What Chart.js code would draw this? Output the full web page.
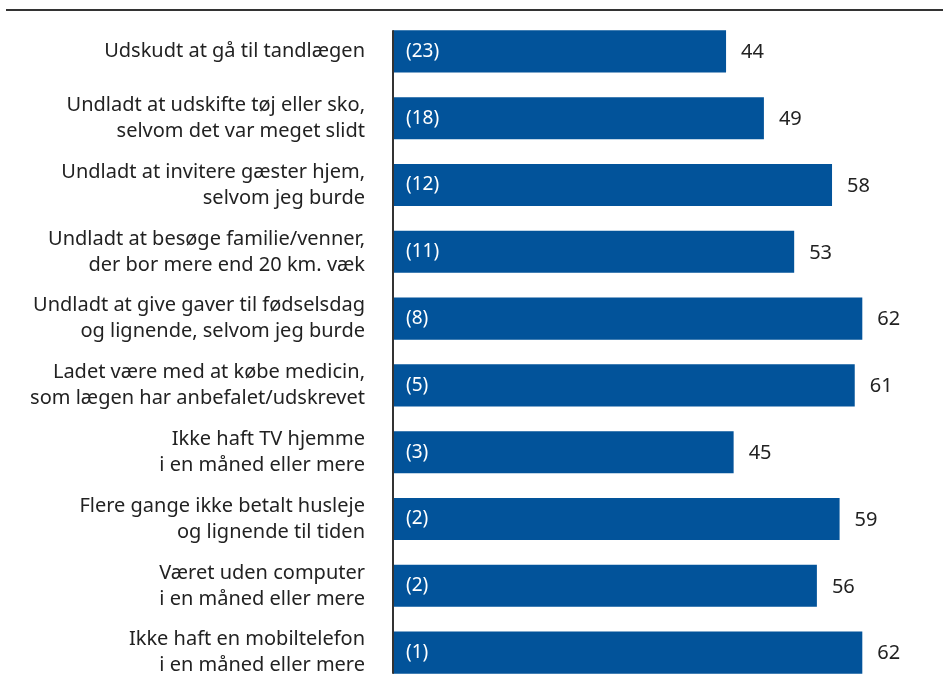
<!DOCTYPE html>
<html>
<head>
<meta charset="utf-8">
<script src="https://cdn.jsdelivr.net/npm/chart.js@4"></script>
<style>
  html, body { margin: 0; padding: 0; background: #fff; }
  #wrap { width: 943px; height: 688px; position: relative; }
</style>
</head>
<body>
<div id="wrap"><canvas id="chart"></canvas></div>
<script>
const categories = [
    ['Udskudt at gå til tandlægen'],
    ['Undladt at udskifte tøj eller sko,', 'selvom det var meget slidt'],
    ['Undladt at invitere gæster hjem,', 'selvom jeg burde'],
    ['Undladt at besøge familie/venner,', 'der bor mere end 20 km. væk'],
    ['Undladt at give gaver til fødselsdag', 'og lignende, selvom jeg burde'],
    ['Ladet være med at købe medicin,', 'som lægen har anbefalet/udskrevet'],
    ['Ikke haft TV hjemme', 'i en måned eller mere'],
    ['Flere gange ikke betalt husleje', 'og lignende til tiden'],
    ['Været uden computer', 'i en måned eller mere'],
    ['Ikke haft en mobiltelefon', 'i en måned eller mere']
];
const values = [44, 49, 58, 53, 62, 61, 45, 59, 56, 62];
const counts = [23, 18, 12, 11, 8, 5, 3, 2, 2, 1];

const barColor = '#02539a';
const textColor = '#222222';
const fontFamily = '"Noto Sans", "Open Sans", sans-serif';

// labels inside and after each bar, the axis line and the rule on top
const barLabels = {
    id: 'barLabels',
    afterDatasetsDraw(chart) {
        const ctx = chart.ctx;
        const meta = chart.getDatasetMeta(0);
        const bars = meta.data;
        ctx.save();
        ctx.textBaseline = 'middle';
        bars.forEach((bar, i) => {
            ctx.font = '19px ' + fontFamily;
            ctx.fillStyle = '#ffffff';
            ctx.textAlign = 'left';
            ctx.fillText('(' + counts[i] + ')', bar.base + 13, bar.y);
            ctx.font = '20px ' + fontFamily;
            ctx.fillStyle = textColor;
            ctx.fillText(values[i], bar.x + 15, bar.y + 1);
        });
        const first = bars[0], last = bars[bars.length - 1];
        ctx.strokeStyle = '#333333';
        ctx.lineWidth = 2;
        ctx.beginPath();
        ctx.moveTo(first.base, first.y - first.height / 2);
        ctx.lineTo(first.base, last.y + last.height / 2);
        ctx.moveTo(6, 10);
        ctx.lineTo(chart.width, 10);
        ctx.stroke();
        ctx.restore();
    }
};

new Chart(document.getElementById('chart').getContext('2d'), {
    type: 'bar',
    data: {
        labels: categories,
        datasets: [{
            data: values,
            backgroundColor: barColor,
            barPercentage: 0.63,
            categoryPercentage: 1
        }]
    },
    options: {
        indexAxis: 'y',
        responsive: true,
        maintainAspectRatio: false,
        animation: false,
        layout: { padding: { top: 18, bottom: 2, right: 5, left: 0 } },
        plugins: {
            legend: { display: false },
            tooltip: { enabled: false }
        },
        scales: {
            x: {
                display: false,
                min: 0,
                max: 72
            },
            y: {
                afterFit(scale) {
                    scale.width = 393;
                    scale.paddingTop = 0;
                    scale.paddingBottom = 0;
                },
                grid: { display: false, drawTicks: false },
                border: { display: false },
                ticks: {
                    color: textColor,
                    padding: 28,
                    font: { family: fontFamily, size: 20, lineHeight: 1.3 }
                }
            }
        }
    },
    plugins: [barLabels]
});
</script>
</body>
</html>
